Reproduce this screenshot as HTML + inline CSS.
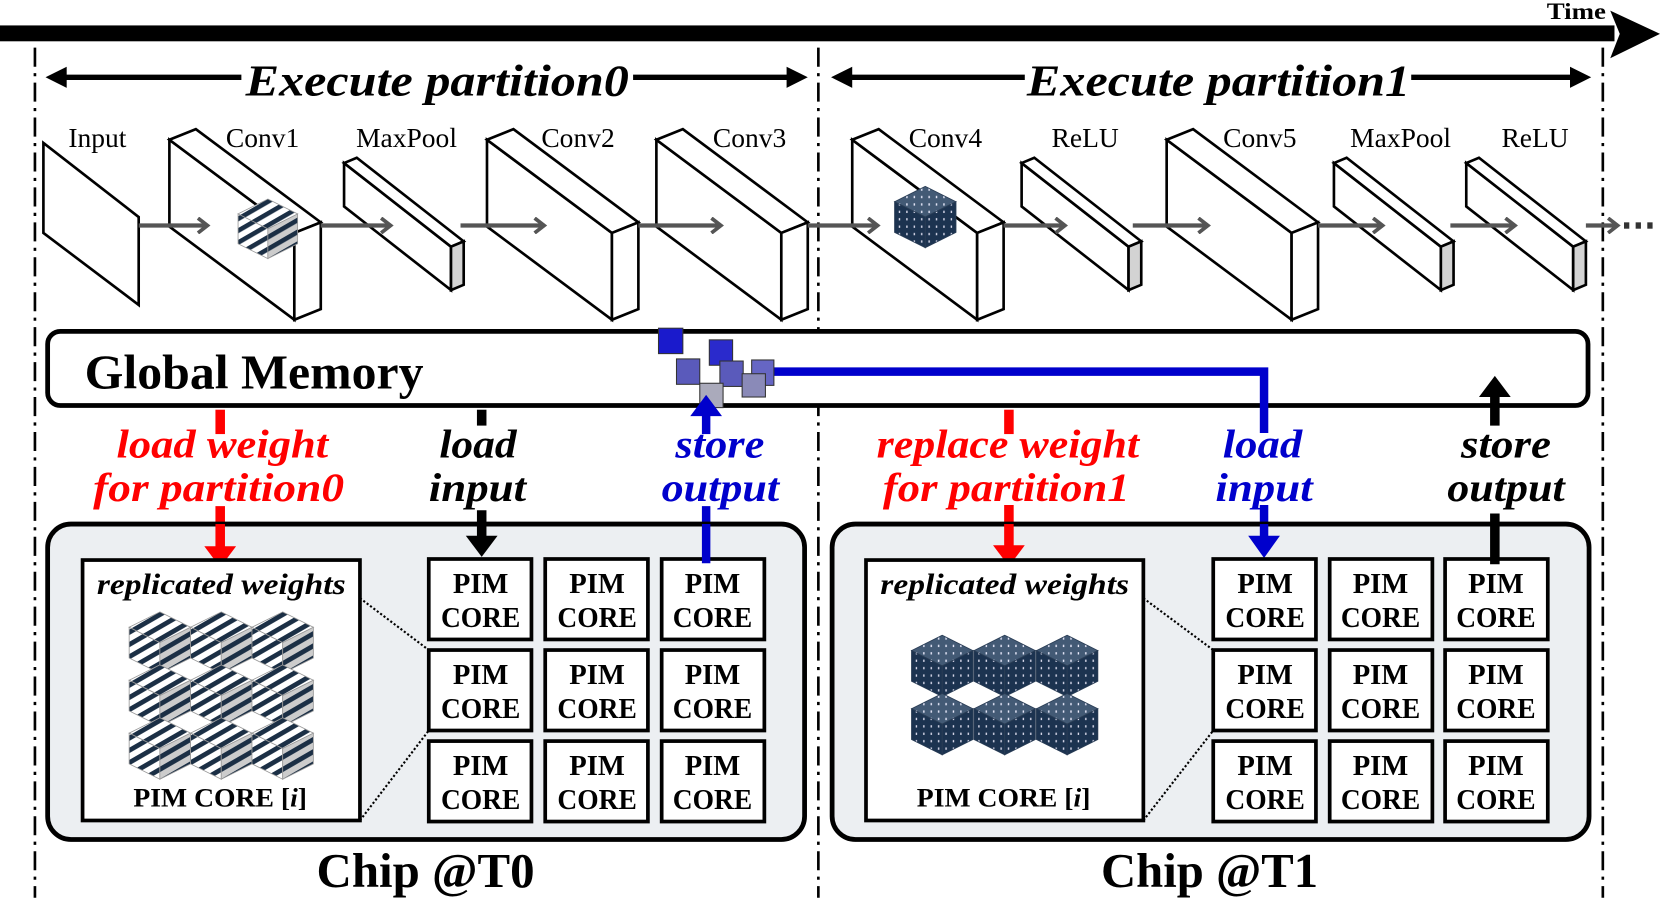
<!DOCTYPE html>
<html><head><meta charset="utf-8"><style>html,body{margin:0;padding:0;background:#fff}svg{display:block}</style></head>
<body>
<svg width="1660" height="898" viewBox="0 0 1568 848.2" xmlns="http://www.w3.org/2000/svg" font-family="'Liberation Serif', serif">
<defs>
<pattern id="str" patternUnits="userSpaceOnUse" width="10" height="10" patternTransform="rotate(-30)">
<rect width="10" height="10" fill="#fff"/><rect y="0" width="10" height="4.5" fill="#1b2f45"/></pattern>
<pattern id="str2" patternUnits="userSpaceOnUse" width="10" height="10" patternTransform="rotate(-30)">
<rect width="10" height="10" fill="#ccc"/><rect y="0" width="10" height="4.5" fill="#1b2f45"/></pattern>
<pattern id="dot" patternUnits="userSpaceOnUse" width="7" height="7">
<rect width="7" height="7" fill="#1c3350"/><rect x="3" y="2" width="1.3" height="2.2" fill="#dde"/></pattern>
<pattern id="dot2" patternUnits="userSpaceOnUse" width="7" height="7">
<rect width="7" height="7" fill="#435a75"/><rect x="3" y="2" width="1.3" height="2.2" fill="#eef"/></pattern>
<g id="sc" stroke="#999" stroke-width="0.8">
<polygon points="0,0 29,14.5 0,29 -29,14.5" fill="url(#str)"/>
<polygon points="-29,14.5 0,29 0,58 -29,43.5" fill="url(#str)"/>
<polygon points="0,29 29,14.5 29,43.5 0,58" fill="url(#str2)"/>
</g>
<g id="dc" stroke="#2a3d55" stroke-width="0.8">
<polygon points="0,0 29,14.5 0,29 -29,14.5" fill="url(#dot2)"/>
<polygon points="-29,14.5 0,29 0,58 -29,43.5" fill="url(#dot)"/>
<polygon points="0,29 29,14.5 29,43.5 0,58" fill="url(#dot)"/>
</g>
<marker id="ga" markerWidth="14" markerHeight="16" refX="11" refY="8" orient="auto" markerUnits="userSpaceOnUse"><path d="M2,1 L11,8 L2,15" fill="none" stroke="#555" stroke-width="3.5"/></marker>
</defs>

<rect x="0" y="24" width="1525" height="15" fill="#000"/>
<polygon points="1521,10 1568,32 1521,55 1530,32" fill="#000"/>
<text x="1489" y="18" font-size="22" font-weight="bold" text-anchor="middle" textLength="56" lengthAdjust="spacingAndGlyphs">Time</text>

<g stroke="#000" stroke-width="2.5" stroke-dasharray="18,6,3,6">
<line x1="33" y1="45" x2="33" y2="848"/>
<line x1="773" y1="45" x2="773" y2="848"/>
<line x1="1514" y1="45" x2="1514" y2="848"/>
</g>

<g stroke="#000" stroke-width="5">
<line x1="55" y1="73" x2="228" y2="73"/><line x1="598" y1="73" x2="752" y2="73"/>
<line x1="797" y1="73" x2="968" y2="73"/><line x1="1333" y1="73" x2="1492" y2="73"/>
</g>
<g fill="#000">
<polygon points="43,73 63,63 63,83"/><polygon points="763,73 743,63 743,83"/>
<polygon points="785,73 805,63 805,83"/><polygon points="1503,73 1483,63 1483,83"/>
</g>
<text x="232" y="90" font-size="42" font-weight="bold" font-style="italic" textLength="362" lengthAdjust="spacingAndGlyphs">Execute partition0</text>
<text x="970" y="90" font-size="42" font-weight="bold" font-style="italic" textLength="362" lengthAdjust="spacingAndGlyphs">Execute partition1</text>

<g font-size="26" text-anchor="middle">
<text x="92" y="139">Input</text><text x="248" y="139">Conv1</text><text x="384" y="139">MaxPool</text>
<text x="546" y="139">Conv2</text><text x="708" y="139">Conv3</text><text x="893" y="139">Conv4</text>
<text x="1025" y="139">ReLU</text><text x="1190" y="139">Conv5</text><text x="1323" y="139">MaxPool</text>
<text x="1450" y="139">ReLU</text>
</g>

<g stroke="#000" stroke-width="2.5" stroke-linejoin="miter" fill="#fff">
<polygon points="41,135 131,205 131,288 41,220"/>
<polygon points="160,132 278,220 278,302 160,214"/><polygon points="160,132 185,122 303,210 278,220"/><polygon points="278,220 303,210 303,292 278,302"/>
<polygon points="460,132 578,220 578,302 460,214"/><polygon points="460,132 485,122 603,210 578,220"/><polygon points="578,220 603,210 603,292 578,302"/>
<polygon points="620,132 738,220 738,302 620,214"/><polygon points="620,132 645,122 763,210 738,220"/><polygon points="738,220 763,210 763,292 738,302"/>
<polygon points="805,132 923,220 923,302 805,214"/><polygon points="805,132 830,122 948,210 923,220"/><polygon points="923,220 948,210 948,292 923,302"/>
<polygon points="1102,132 1220,220 1220,302 1102,214"/><polygon points="1102,132 1127,122 1245,210 1220,220"/><polygon points="1220,220 1245,210 1245,292 1220,302"/>
<polygon points="325,154 426,233 426,274 325,195"/><polygon points="325,154 337,149 438,228 426,233"/><polygon points="426,233 438,228 438,269 426,274" fill="#d3d3d3"/>
<polygon points="965,154 1066,233 1066,274 965,195"/><polygon points="965,154 977,149 1078,228 1066,233"/><polygon points="1066,233 1078,228 1078,269 1066,274" fill="#d3d3d3"/>
<polygon points="1260,154 1361,233 1361,274 1260,195"/><polygon points="1260,154 1272,149 1373,228 1361,233"/><polygon points="1361,233 1373,228 1373,269 1361,274" fill="#d3d3d3"/>
<polygon points="1385,154 1486,233 1486,274 1385,195"/><polygon points="1385,154 1397,149 1498,228 1486,233"/><polygon points="1486,233 1498,228 1498,269 1486,274" fill="#d3d3d3"/>
</g>

<g stroke="#555" stroke-width="4" marker-end="url(#ga)">
<line x1="131" y1="213" x2="196" y2="213"/><line x1="303" y1="213" x2="369" y2="213"/>
<line x1="435" y1="213" x2="514" y2="213"/><line x1="603" y1="213" x2="681" y2="213"/>
<line x1="763" y1="213" x2="829" y2="213"/><line x1="948" y1="213" x2="1006" y2="213"/>
<line x1="1070" y1="213" x2="1141" y2="213"/><line x1="1245" y1="213" x2="1306" y2="213"/>
<line x1="1370" y1="213" x2="1431" y2="213"/><line x1="1498" y1="213" x2="1528" y2="213"/>
</g>
<g fill="#333"><rect x="1534" y="210" width="5" height="6"/><rect x="1545" y="210" width="5" height="6"/><rect x="1556" y="210" width="5" height="6"/></g>

<use href="#sc" transform="translate(253,188) scale(0.97)"/>
<use href="#dc" transform="translate(874,176)"/>

<rect x="45" y="313" width="1455" height="70" rx="12" fill="#fff" stroke="#000" stroke-width="4.5"/>
<text x="80" y="367" font-size="46" font-weight="bold" textLength="320" lengthAdjust="spacingAndGlyphs">Global Memory</text>

<polyline points="725,351 1194,351 1194,409" fill="none" stroke="#0000cc" stroke-width="8"/>
<g stroke="#333" stroke-width="1">
<rect x="622" y="310" width="23" height="24" fill="#1a1acc"/>
<rect x="670" y="321" width="22" height="24" fill="#2a2acc"/>
<rect x="639" y="339" width="22" height="24" fill="#5a5abb"/>
<rect x="680" y="341" width="22" height="24" fill="#5a5abb"/>
<rect x="710" y="340" width="21" height="24" fill="#6666c4"/>
<rect x="701" y="353" width="22" height="22" fill="#8a8ab8"/>
<rect x="661" y="362" width="22" height="23" fill="#aab"/>
</g>

<line x1="208" y1="387" x2="208" y2="410" stroke="#f00" stroke-width="9"/>
<line x1="455" y1="387" x2="455" y2="402" stroke="#000" stroke-width="9"/>
<line x1="953" y1="387" x2="953" y2="410" stroke="#f00" stroke-width="9"/>
<line x1="667" y1="392" x2="667" y2="410" stroke="#0000cc" stroke-width="8"/>
<polygon points="667,373 652,393 682,393" fill="#0000cc"/>
<line x1="1412" y1="370" x2="1412" y2="402" stroke="#000" stroke-width="9"/>
<polygon points="1412,355 1397,375 1427,375" fill="#000"/>

<line x1="208" y1="478" x2="208" y2="518" stroke="#f00" stroke-width="9"/>
<line x1="455" y1="482" x2="455" y2="508" stroke="#000" stroke-width="9"/>
<line x1="667" y1="478" x2="667" y2="532" stroke="#0000cc" stroke-width="8"/>
<line x1="953" y1="477" x2="953" y2="518" stroke="#f00" stroke-width="9"/>
<line x1="1194" y1="477" x2="1194" y2="508" stroke="#0000cc" stroke-width="8"/>
<line x1="1412" y1="485" x2="1412" y2="533" stroke="#000" stroke-width="9"/>

<g font-size="38" font-weight="bold" font-style="italic">
<text x="110" y="432" fill="#f00" textLength="200" lengthAdjust="spacingAndGlyphs">load weight</text>
<text x="88" y="473" fill="#f00" textLength="237" lengthAdjust="spacingAndGlyphs">for partition0</text>
<text x="415" y="432" fill="#000" textLength="73" lengthAdjust="spacingAndGlyphs">load</text>
<text x="405" y="473" fill="#000" textLength="92" lengthAdjust="spacingAndGlyphs">input</text>
<text x="638" y="432" fill="#0000cc" textLength="84" lengthAdjust="spacingAndGlyphs">store</text>
<text x="625" y="473" fill="#0000cc" textLength="111" lengthAdjust="spacingAndGlyphs">output</text>
<text x="828" y="432" fill="#f00" textLength="248" lengthAdjust="spacingAndGlyphs">replace weight</text>
<text x="834" y="473" fill="#f00" textLength="233" lengthAdjust="spacingAndGlyphs">for partition1</text>
<text x="1155" y="432" fill="#0000cc" textLength="75" lengthAdjust="spacingAndGlyphs">load</text>
<text x="1148" y="473" fill="#0000cc" textLength="92" lengthAdjust="spacingAndGlyphs">input</text>
<text x="1380" y="432" fill="#000" textLength="85" lengthAdjust="spacingAndGlyphs">store</text>
<text x="1367" y="473" fill="#000" textLength="111" lengthAdjust="spacingAndGlyphs">output</text>
</g>

<rect x="45" y="495" width="715" height="298" rx="22" fill="#eceff2" stroke="#000" stroke-width="4.5"/>
<rect x="786" y="495" width="715" height="298" rx="22" fill="#eceff2" stroke="#000" stroke-width="4.5"/>
<line x1="208" y1="495" x2="208" y2="518" stroke="#f00" stroke-width="9"/>
<polygon points="208,536 193,516 223,516" fill="#f00"/>
<line x1="953" y1="495" x2="953" y2="518" stroke="#f00" stroke-width="9"/>
<polygon points="953,535 938,515 968,515" fill="#f00"/>
<line x1="455" y1="495" x2="455" y2="508" stroke="#000" stroke-width="9"/>
<polygon points="455,526 440,506 470,506" fill="#000"/>
<line x1="1194" y1="495" x2="1194" y2="508" stroke="#0000cc" stroke-width="8"/>
<polygon points="1194,527 1179,506 1209,506" fill="#0000cc"/>

<rect x="78" y="529" width="262" height="246" fill="#fff" stroke="#000" stroke-width="3.5"/>
<rect x="818" y="529" width="262" height="246" fill="#fff" stroke="#000" stroke-width="3.5"/>
<g font-size="28" font-weight="bold" font-style="italic" text-anchor="middle">
<text x="209" y="561" textLength="235" lengthAdjust="spacingAndGlyphs">replicated weights</text>
<text x="949" y="561" textLength="235" lengthAdjust="spacingAndGlyphs">replicated weights</text>
</g>
<g font-size="25" font-weight="bold">
<text x="126" y="762" textLength="164" lengthAdjust="spacingAndGlyphs">PIM CORE [<tspan font-style="italic">i</tspan>]</text>
<text x="866" y="762" textLength="164" lengthAdjust="spacingAndGlyphs">PIM CORE [<tspan font-style="italic">i</tspan>]</text>
</g>
<g stroke="#000" stroke-width="2" stroke-dasharray="2,2">
<line x1="340" y1="565" x2="405" y2="614"/><line x1="340" y1="775" x2="405" y2="690"/>
<line x1="1080" y1="565" x2="1146" y2="614"/><line x1="1080" y1="775" x2="1146" y2="690"/>
</g>

<use href="#sc" transform="translate(151,578)"/><use href="#sc" transform="translate(209,578)"/><use href="#sc" transform="translate(267,578)"/>
<use href="#sc" transform="translate(151,628)"/><use href="#sc" transform="translate(209,628)"/><use href="#sc" transform="translate(267,628)"/>
<use href="#sc" transform="translate(151,678)"/><use href="#sc" transform="translate(209,678)"/><use href="#sc" transform="translate(267,678)"/>
<use href="#dc" transform="translate(890,600)"/><use href="#dc" transform="translate(949,600)"/><use href="#dc" transform="translate(1008,600)"/>
<use href="#dc" transform="translate(890,655)"/><use href="#dc" transform="translate(949,655)"/><use href="#dc" transform="translate(1008,655)"/>

<g stroke="#000" stroke-width="3.5" fill="#fff">
<rect x="405" y="528" width="97" height="76"/><rect x="515" y="528" width="97" height="76"/><rect x="625" y="528" width="97" height="76"/>
<rect x="405" y="614" width="97" height="76"/><rect x="515" y="614" width="97" height="76"/><rect x="625" y="614" width="97" height="76"/>
<rect x="405" y="700" width="97" height="76"/><rect x="515" y="700" width="97" height="76"/><rect x="625" y="700" width="97" height="76"/>
<rect x="1146" y="528" width="97" height="76"/><rect x="1256" y="528" width="97" height="76"/><rect x="1365" y="528" width="97" height="76"/>
<rect x="1146" y="614" width="97" height="76"/><rect x="1256" y="614" width="97" height="76"/><rect x="1365" y="614" width="97" height="76"/>
<rect x="1146" y="700" width="97" height="76"/><rect x="1256" y="700" width="97" height="76"/><rect x="1365" y="700" width="97" height="76"/>
</g>
<line x1="667" y1="495" x2="667" y2="532" stroke="#0000cc" stroke-width="8"/>
<line x1="1412" y1="495" x2="1412" y2="533" stroke="#000" stroke-width="9"/>
<g font-size="27" font-weight="bold" text-anchor="middle">
<g transform="translate(454,0)"><text y="560">PIM</text><text y="592" textLength="75" lengthAdjust="spacingAndGlyphs">CORE</text><text y="646">PIM</text><text y="678" textLength="75" lengthAdjust="spacingAndGlyphs">CORE</text><text y="732">PIM</text><text y="764" textLength="75" lengthAdjust="spacingAndGlyphs">CORE</text></g>
<g transform="translate(564,0)"><text y="560">PIM</text><text y="592" textLength="75" lengthAdjust="spacingAndGlyphs">CORE</text><text y="646">PIM</text><text y="678" textLength="75" lengthAdjust="spacingAndGlyphs">CORE</text><text y="732">PIM</text><text y="764" textLength="75" lengthAdjust="spacingAndGlyphs">CORE</text></g>
<g transform="translate(673,0)"><text y="560">PIM</text><text y="592" textLength="75" lengthAdjust="spacingAndGlyphs">CORE</text><text y="646">PIM</text><text y="678" textLength="75" lengthAdjust="spacingAndGlyphs">CORE</text><text y="732">PIM</text><text y="764" textLength="75" lengthAdjust="spacingAndGlyphs">CORE</text></g>
<g transform="translate(1195,0)"><text y="560">PIM</text><text y="592" textLength="75" lengthAdjust="spacingAndGlyphs">CORE</text><text y="646">PIM</text><text y="678" textLength="75" lengthAdjust="spacingAndGlyphs">CORE</text><text y="732">PIM</text><text y="764" textLength="75" lengthAdjust="spacingAndGlyphs">CORE</text></g>
<g transform="translate(1304,0)"><text y="560">PIM</text><text y="592" textLength="75" lengthAdjust="spacingAndGlyphs">CORE</text><text y="646">PIM</text><text y="678" textLength="75" lengthAdjust="spacingAndGlyphs">CORE</text><text y="732">PIM</text><text y="764" textLength="75" lengthAdjust="spacingAndGlyphs">CORE</text></g>
<g transform="translate(1413,0)"><text y="560">PIM</text><text y="592" textLength="75" lengthAdjust="spacingAndGlyphs">CORE</text><text y="646">PIM</text><text y="678" textLength="75" lengthAdjust="spacingAndGlyphs">CORE</text><text y="732">PIM</text><text y="764" textLength="75" lengthAdjust="spacingAndGlyphs">CORE</text></g>
</g>

<g font-size="46" font-weight="bold">
<text x="299" y="838" textLength="206" lengthAdjust="spacingAndGlyphs">Chip @T0</text>
<text x="1040" y="838" textLength="205" lengthAdjust="spacingAndGlyphs">Chip @T1</text>
</g>
</svg>
</body></html>
